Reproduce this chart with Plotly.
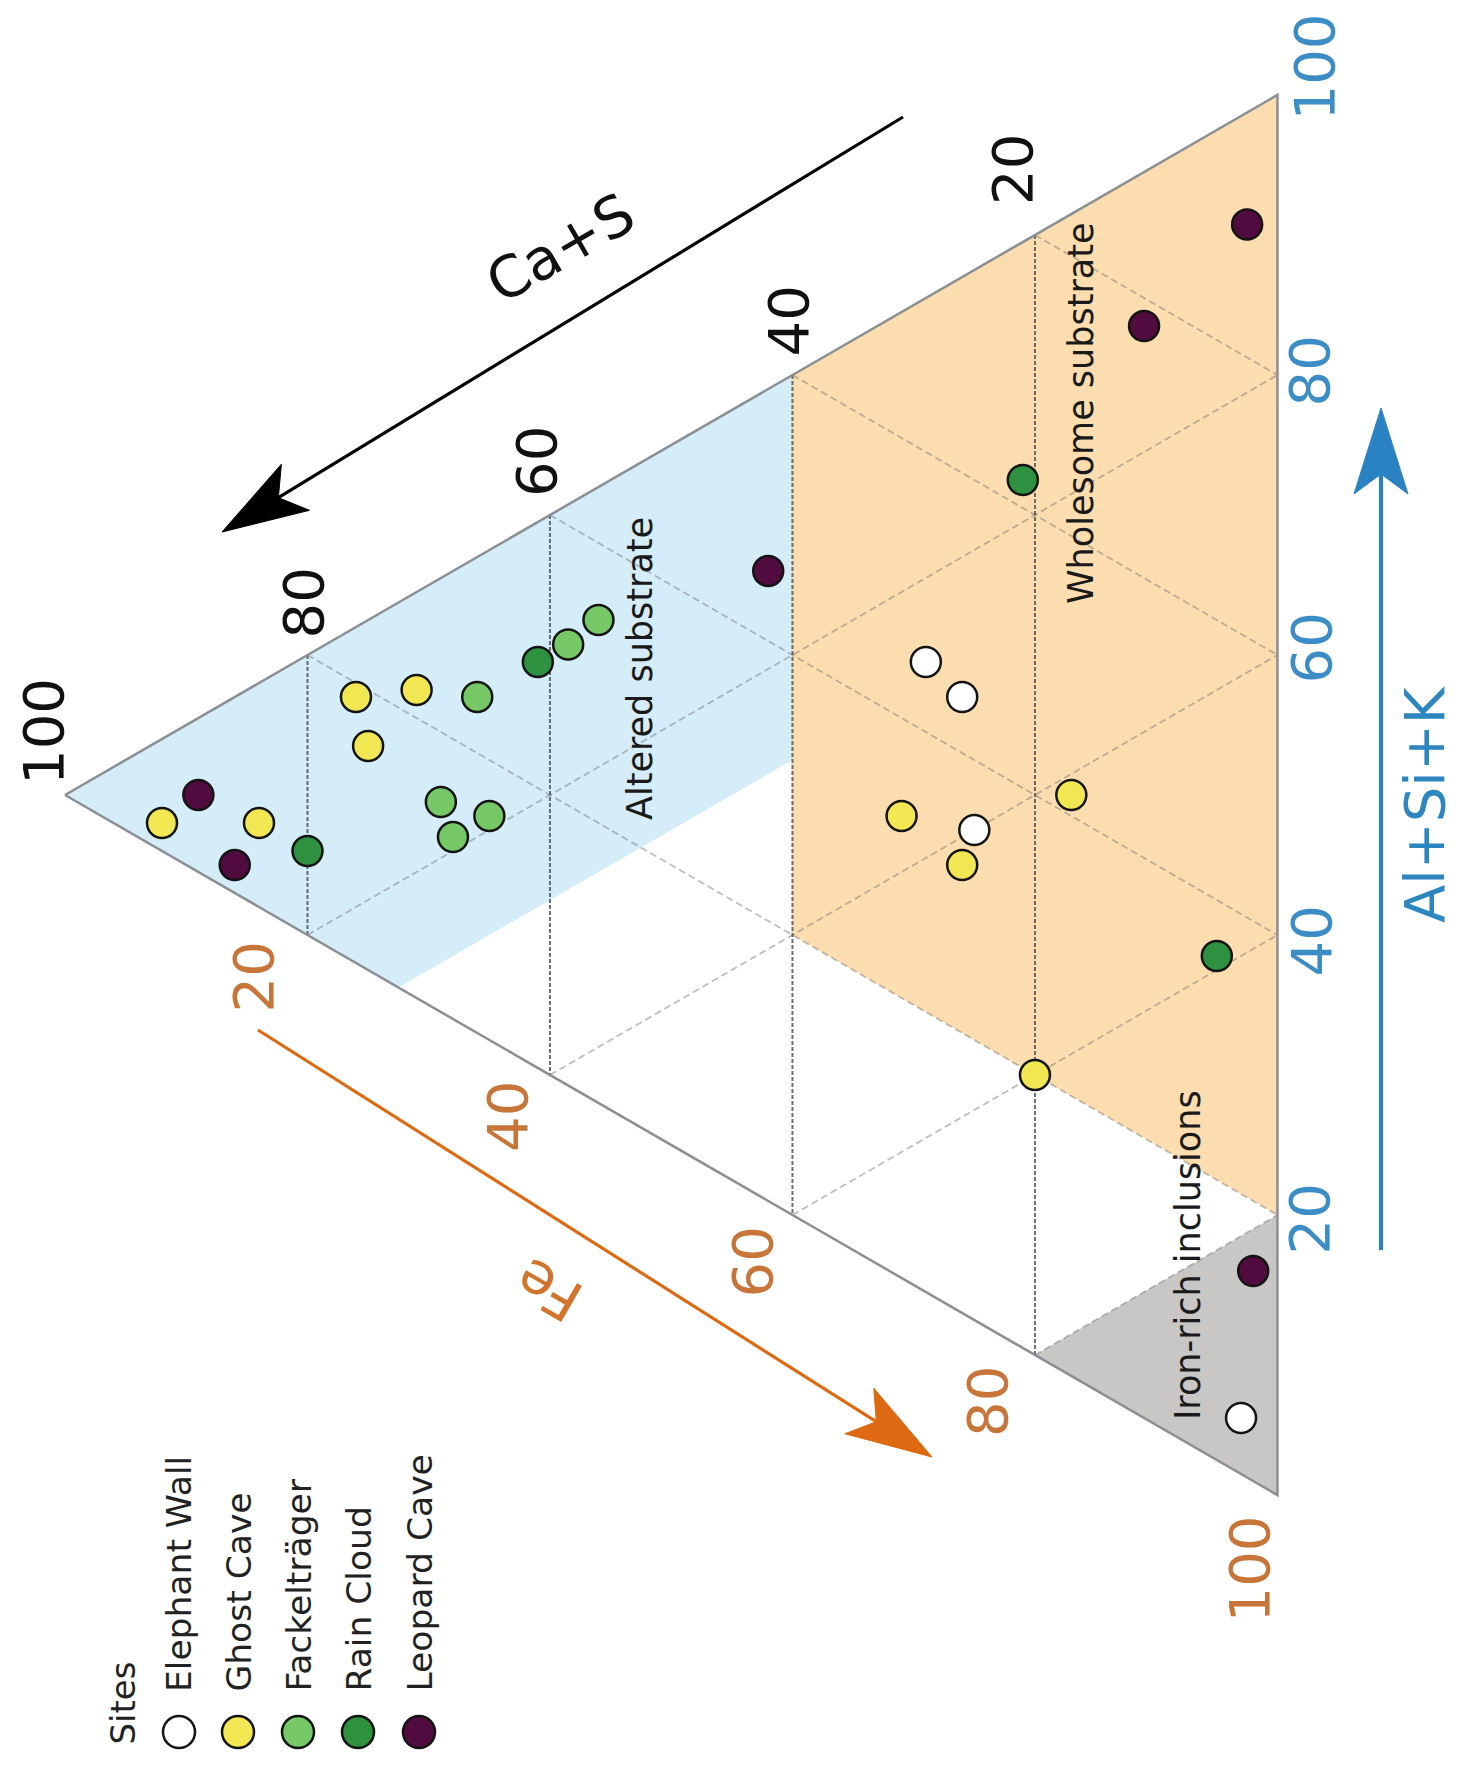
import math
import plotly.graph_objects as go

# ---------------- data: compositions in % (Ca+S, Al+Si+K, Fe) ----------------
site_names = ["Elephant Wall", "Ghost Cave", "Fackelträger", "Rain Cloud", "Leopard Cave"]

elephant_wall_ca = [29, 26, 25, 3]
elephant_wall_al = [45, 44, 35, 4]
elephant_wall_fe = [26, 30, 40, 93]

ghost_cave_ca = [92, 84, 76, 71, 75, 31, 26, 17, 20]
ghost_cave_al = [2, 6, 19, 22, 16, 33, 32, 41.5, 20]
ghost_cave_fe = [6, 10, 5, 7, 9, 36, 42, 41.5, 60]

fackeltrager_ca = [66, 69, 68, 65, 58.5, 56]
fackeltrager_al = [24, 15, 13, 16, 31.5, 34.5]
fackeltrager_fe = [10, 16, 19, 19, 10, 9.5]

rain_cloud_ca = [80, 61, 5, 21]
rain_cloud_al = [6, 29, 36, 62]
rain_cloud_fe = [14, 10, 59, 17]

leopard_cave_ca = [89, 86, 42, 11, 2.5, 2]
leopard_cave_al = [5.5, 2, 45, 78, 89.5, 15]
leopard_cave_fe = [5.5, 12, 13, 11, 8, 83]

tick_values = [20, 40, 60, 80, 100]
tick_labels = ["20", "40", "60", "80", "100"]
grid_values = [20, 40, 60, 80]

# region thresholds (%)
altered_ca_min = 40
altered_fe_max = 27.5
wholesome_ca_max = 40
wholesome_al_min = 20
iron_fe_min = 80

region_names = ["Altered substrate", "Wholesome substrate", "Iron-rich inclusions"]

# ---------------- geometry (rotated ternary: Ca+S apex on the left) ----------------
PAGE_W, PAGE_H = 1461, 1765
BODY_MARGIN = 8                      # default page margin around the plot div
W, H = PAGE_W - BODY_MARGIN, PAGE_H - BODY_MARGIN
APEX_PAGE = (65, 795)                # apex position on the page
APEX_FIG = (APEX_PAGE[0] - BODY_MARGIN, APEX_PAGE[1] - BODY_MARGIN)
PPU = 14.0  # pixels per axis unit (both axes)
SQ3 = math.sqrt(3) / 2
FONT = "DejaVu Sans"


def tern(ca, al, fe):
    t = ca + al + fe
    ca, al, fe = 100 * ca / t, 100 * al / t, 100 * fe / t
    return (100 - ca) * SQ3, (al - fe) / 2


def tern_list(pts):
    xs, ys = [], []
    for p in pts:
        if p is None:
            xs.append(None)
            ys.append(None)
        else:
            x, y = tern(*p)
            xs.append(x)
            ys.append(y)
    return xs, ys


def px2d(X, Y):
    """page pixel -> axis units"""
    return (X - APEX_PAGE[0]) / PPU, (APEX_PAGE[1] - Y) / PPU


fig = go.Figure()

# ---------------- regions ----------------
a, f = altered_ca_min, altered_fe_max
altered_poly = [(100, 0, 0), (a, 100 - a, 0), (a, 100 - a - f, f), (100 - f, 0, f), (100, 0, 0)]
c, m = wholesome_ca_max, wholesome_al_min
wholesome_poly = [(c, 100 - c, 0), (0, 100, 0), (0, m, 100 - m), (c, m, 100 - c - m), (c, 100 - c, 0)]
i = iron_fe_min
iron_poly = [(100 - i, 0, i), (0, 100 - i, i), (0, 0, 100), (100 - i, 0, i)]

for poly, col in [(altered_poly, "#D5ECF9"), (wholesome_poly, "#FCDDB0"), (iron_poly, "#C9C6C6")]:
    xs, ys = tern_list(poly)
    fig.add_trace(go.Scatter(x=xs, y=ys, mode="lines", fill="toself", fillcolor=col,
                             line=dict(width=0), hoverinfo="skip", showlegend=False))

# ---------------- grid lines ----------------
ca_grid, al_grid, fe_grid = [], [], []
for v in grid_values:
    ca_grid += [(v, 100 - v, 0), (v, 0, 100 - v), None]
    al_grid += [(100 - v, v, 0), (0, v, 100 - v), None]
    fe_grid += [(100 - v, 0, v), (0, 100 - v, v), None]

for pts, col, dash in [(al_grid, "rgba(110,110,110,0.45)", "7px,4px"),
                       (fe_grid, "rgba(110,110,110,0.45)", "7px,4px"),
                       (ca_grid, "rgba(70,75,80,0.8)", "4px,2px")]:
    xs, ys = tern_list(pts)
    fig.add_trace(go.Scatter(x=xs, y=ys, mode="lines", line=dict(color=col, width=2, dash=dash),
                             hoverinfo="skip", showlegend=False))

# triangle border
xs, ys = tern_list([(100, 0, 0), (0, 100, 0), (0, 0, 100), (100, 0, 0)])
fig.add_trace(go.Scatter(x=xs, y=ys, mode="lines", line=dict(color="#8b8f93", width=2.5),
                         hoverinfo="skip", showlegend=False))

# ---------------- data points ----------------
site_data = [
    (elephant_wall_ca, elephant_wall_al, elephant_wall_fe),
    (ghost_cave_ca, ghost_cave_al, ghost_cave_fe),
    (fackeltrager_ca, fackeltrager_al, fackeltrager_fe),
    (rain_cloud_ca, rain_cloud_al, rain_cloud_fe),
    (leopard_cave_ca, leopard_cave_al, leopard_cave_fe),
]
site_colors = ["#FFFFFF", "#F1E752", "#76C866", "#2E9140", "#520B3E"]

for name, (cas, als, fes), col in zip(site_names, site_data, site_colors):
    xs, ys = tern_list(list(zip(cas, als, fes)))
    fig.add_trace(go.Scatter(x=xs, y=ys, mode="markers", name=name,
                             marker=dict(size=30, color=col, line=dict(color="#141414", width=2.5)),
                             showlegend=False))

annotations = []
shapes = []

# ---------------- tick labels ----------------
ca_shift = {100: (-22, 63), 80: (-4, 52), 60: (-14, 54), 40: (-4, 54), 20: (-23, 66)}
fe_shift = {20: (-54, -42), 40: (-43, -41), 60: (-40, -47), 80: (-48, -46), 100: (-28, -74)}
al_shift = {100: (37, 28), 80: (32, 4), 60: (34, 7), 40: (34, -6), 20: (32, -4)}

for v, lab in zip(tick_values, tick_labels):
    for pt, shift, col in [((v, 100 - v, 0), ca_shift[v], "#111111"),
                           ((100 - v, 0, v), fe_shift[v], "#C8753A"),
                           ((0, v, 100 - v), al_shift[v], "#3C8DC6")]:
        x, y = tern(*pt)
        annotations.append(dict(x=x, y=y, xref="x", yref="y", text=lab, showarrow=False,
                                textangle=-90, xshift=shift[0], yshift=shift[1],
                                xanchor="center", yanchor="middle",
                                font=dict(family=FONT, size=56, color=col)))


# ---------------- axis titles ----------------
def add_text(X, Y, text, size, color, angle=-90, xanchor="center", yanchor="middle"):
    x, y = px2d(X, Y)
    annotations.append(dict(x=x, y=y, xref="x", yref="y", text=text, showarrow=False,
                            textangle=angle, xanchor=xanchor, yanchor=yanchor,
                            font=dict(family=FONT, size=size, color=color)))


add_text(560, 248, "Ca+S", 57, "#111111", angle=-30)
add_text(549, 1290, "Fe", 57, "#D2732E", angle=-150)
add_text(1424, 805, "Al+Si+K", 56, "#2E86C1", angle=-90)

# region labels
add_text(640, 669, region_names[0], 35, "#1a1a1a")
add_text(1081, 413, region_names[1], 35, "#1a1a1a")
add_text(1188, 1255, region_names[2], 35, "#1a1a1a")


# ---------------- arrows ----------------
def arrow(tail, tip, color, width, L=86, Wd=54, notch=20):
    dx, dy = tip[0] - tail[0], tip[1] - tail[1]
    n = math.hypot(dx, dy)
    ux, uy = dx / n, dy / n
    px_, py_ = -uy, ux
    bx, by = tip[0] - L * ux, tip[1] - L * uy
    c1 = (bx + Wd / 2 * px_, by + Wd / 2 * py_)
    c2 = (bx - Wd / 2 * px_, by - Wd / 2 * py_)
    nt = (tip[0] - (L - notch) * ux, tip[1] - (L - notch) * uy)
    t0 = px2d(*tail)
    t1 = px2d(*nt)
    shapes.append(dict(type="line", xref="x", yref="y", x0=t0[0], y0=t0[1], x1=t1[0], y1=t1[1],
                       line=dict(color=color, width=width)))
    pts = [px2d(*p) for p in [tip, c1, nt, c2]]
    path = "M {} {} L {} {} L {} {} L {} {} Z".format(*[v for p in pts for v in p])
    shapes.append(dict(type="path", xref="x", yref="y", path=path, fillcolor=color,
                       line=dict(color=color, width=1)))


arrow((903, 117), (222, 532), "#000000", 3.2)
arrow((258, 1030), (932, 1457), "#DD6A12", 3.2)
arrow((1381, 1250), (1381, 408), "#2A82C3", 4.2)

# ---------------- legend (rotated, drawn manually) ----------------
legend_x = [179, 238, 298, 358, 419]
add_text(122, 1747, "Sites", 34, "#222222", yanchor="bottom")
for X, name, col in zip(legend_x, site_names, site_colors):
    add_text(X, 1694, name, 34.5, "#222222", yanchor="bottom")
    x0, y0 = px2d(X - 16, 1732 - 16)
    x1, y1 = px2d(X + 16, 1732 + 16)
    shapes.append(dict(type="circle", xref="x", yref="y", x0=x0, y0=y0, x1=x1, y1=y1,
                       fillcolor=col, line=dict(color="#141414", width=2.5)))

fig.update_layout(
    width=W, height=H,
    margin=dict(l=0, r=0, t=0, b=0),
    paper_bgcolor="white", plot_bgcolor="white",
    showlegend=False,
    xaxis=dict(range=[-APEX_FIG[0] / PPU, (W - APEX_FIG[0]) / PPU], visible=False, fixedrange=True),
    yaxis=dict(range=[(APEX_FIG[1] - H) / PPU, APEX_FIG[1] / PPU], visible=False, fixedrange=True),
    annotations=annotations,
    shapes=shapes,
)

fig.write_html("out.html", config={"displayModeBar": False})
